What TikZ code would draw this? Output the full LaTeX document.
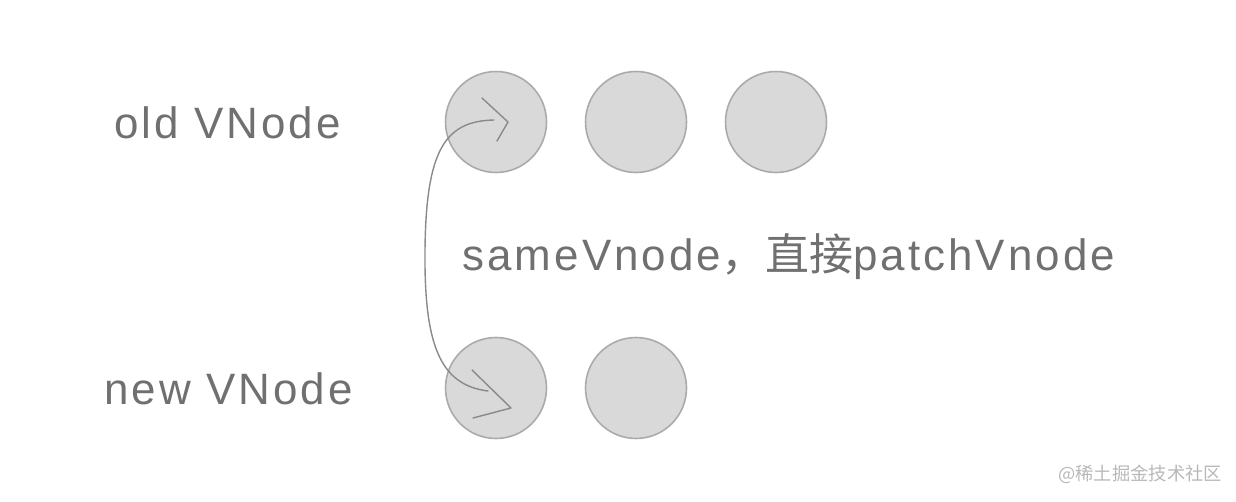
\documentclass[tikz,border=0pt]{standalone}
\usepackage{fontspec}
\setmainfont{Liberation Sans}[LetterSpace=7]
\newfontfamily\cjk{Noto Sans CJK SC}
\newfontfamily\wm{Noto Sans CJK SC}
\definecolor{txt}{HTML}{707070}
\definecolor{cfill}{HTML}{D9D9D9}
\definecolor{cdraw}{HTML}{AAAAAA}
\definecolor{lnk}{HTML}{8A8A8A}
\definecolor{wmc}{HTML}{B8B8B8}
\tikzset{
  vnode/.style={circle, fill=cfill, draw=cdraw, line width=0.9pt, minimum size=101*0.02cm, inner sep=0pt},
  lbl/.style={text=txt, font=\fontsize{25pt}{28pt}\selectfont, inner sep=0pt, anchor=base west},
  link/.style={draw=lnk, line width=0.8pt, line cap=round, line join=round},
}
\begin{document}
\begin{tikzpicture}[x=0.02cm, y=-0.02cm]
\useasboundingbox (0,0) rectangle (1236,502);
\node[vnode] (o1) at (496,122) {};
\node[vnode] (o2) at (636,122) {};
\node[vnode] (o3) at (776,122) {};
\node[vnode] (n1) at (496,388) {};
\node[vnode] (n2) at (636,388) {};
\node[lbl] (old) at (114,139) {old VNode};
\node[lbl] (new) at (104,405) {new VNode};
\node[lbl] (mid) at (462,271) {sameVnode{\cjk ，直接}patchVnode};
\node[text=wmc, font=\wm\fontsize{10.4pt}{12pt}\selectfont, inner sep=0pt, anchor=base west] (wmk) at (1058,480) {@稀土掘金技术社区};
% connector
\coordinate (a) at (494,120);
\coordinate (b) at (488,391);
\draw[link] (a) .. controls (445,121) and (426,150) .. (425,250)
  .. controls (424,345) and (440,385) .. (b);
\coordinate (t1) at (508,122);
\draw[link] (482,98) -- (t1) -- (497,141);
\coordinate (t2) at (511,408);
\draw[link] (472,370) -- (t2) -- (473,418);
\end{tikzpicture}
\end{document}
